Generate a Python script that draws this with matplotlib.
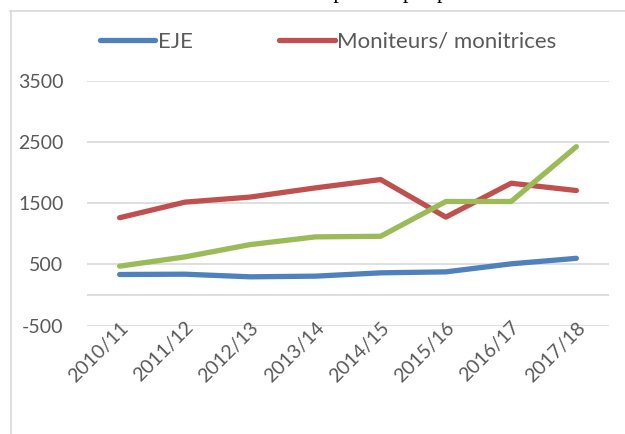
import matplotlib.pyplot as plt
from matplotlib.lines import Line2D

# Дані
years = ['2010/11', '2011/12', '2012/13', '2013/14', '2014/15', '2015/16', '2016/17', '2017/18']
eje = [336, 341, 298, 309, 363, 379, 510, 600]
moniteurs = [1263, 1517, 1600, 1750, 1886, 1273, 1826, 1707]
autre = [472, 623, 824, 950, 960, 1528, 1528, 2423]
yticks = [-500, 500, 1500, 2500, 3500]

grey = '#595959'
plt.rcParams['font.family'] = ['Lato', 'DejaVu Sans']
plt.rcParams['axes.unicode_minus'] = False

fig = plt.figure(figsize=(6.25, 4.34), dpi=100)
ax = fig.add_axes([87 / 625, 1 - 325.7 / 434, 522 / 625, 245 / 434])

x = range(len(years))
ax.plot(x, eje, color='#4f81bd', lw=3.8, solid_capstyle='round', solid_joinstyle='round', label='EJE')
ax.plot(x, moniteurs, color='#c0504d', lw=3.8, solid_capstyle='round', solid_joinstyle='round', label='Moniteurs/ monitrices')
ax.plot(x, autre, color='#9bbb59', lw=3.8, solid_capstyle='round', solid_joinstyle='round')

ax.set_xlim(-0.5, len(years) - 0.5)
ax.set_ylim(-500, 3500)
for v in yticks:
    ax.axhline(v, color='#d9d9d9', lw=1.2, zorder=0)
ax.axhline(0, color='#d9d9d9', lw=1.2, zorder=0)

ax.set_yticks(yticks)
ax.set_xticks(list(x))
ax.set_xticklabels(years, rotation=45, ha='right', rotation_mode='anchor')
ax.tick_params(axis='y', length=0, pad=17, labelsize=14, labelcolor=grey)
ax.tick_params(axis='x', length=0, pad=-5, labelsize=14, labelcolor=grey)
for s in ax.spines.values():
    s.set_visible(False)

fig.legend(loc='center', bbox_to_anchor=(328 / 625, 1 - 42 / 434), ncol=2, frameon=False,
           fontsize=16, labelcolor=grey, handlelength=2.5, handletextpad=0.1, columnspacing=3.9)

# рамка діаграми
fig.add_artist(Line2D([10.5 / 625, 10.5 / 625], [0, 1 - 11 / 434], color='#d9d9d9', lw=1.2))
fig.add_artist(Line2D([10 / 625, 1], [1 - 11 / 434, 1 - 11 / 434], color='#d9d9d9', lw=1.2))

# заголовок (обрізаний зверху)
fig.text(0.5, 1 + 2 / 434, 'Évolution du nombre de diplômés par profession', ha='center', va='baseline',
         family='Liberation Serif', fontsize=16)

plt.savefig('out.png', dpi=100)
